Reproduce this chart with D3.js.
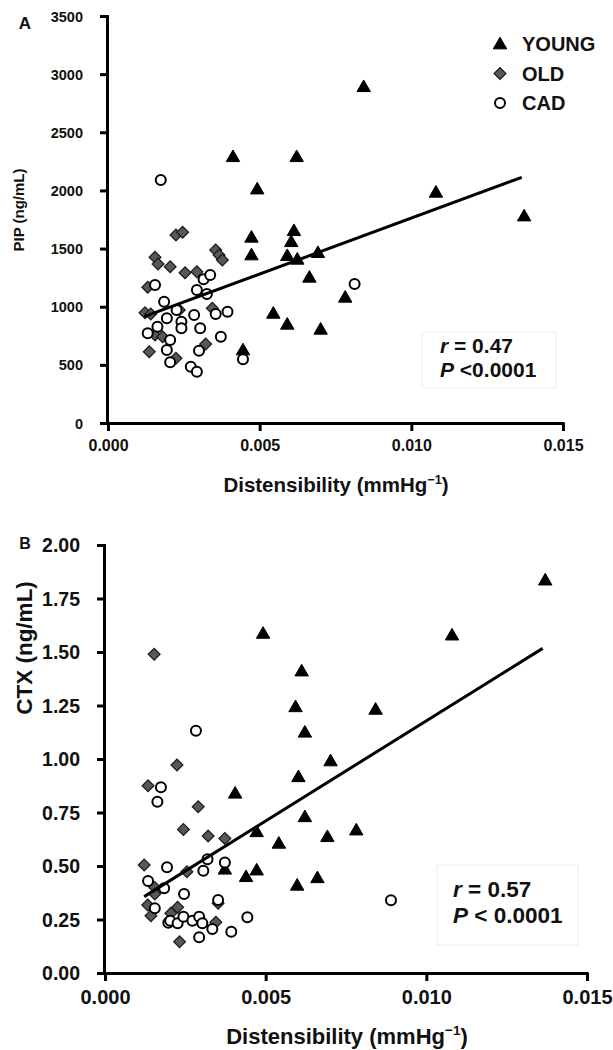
<!DOCTYPE html>
<html><head><meta charset="utf-8">
<script src="https://cdn.jsdelivr.net/npm/d3@7"></script>
<style>body{margin:0;background:#fff}svg{display:block;font-family:"Liberation Sans",Arial,sans-serif;font-weight:bold}</style>
</head><body><svg id="c" width="613" height="1050"></svg>
<script>
// ---------- data ----------
const xTicks = [0, 0.005, 0.010, 0.015];
const yTicksA = [0, 500, 1000, 1500, 2000, 2500, 3000, 3500];
const yTicksB = [0, 0.25, 0.5, 0.75, 1.0, 1.25, 1.5, 1.75, 2.0];
const groups = ["YOUNG", "OLD", "CAD"];

const youngA_x = [0.00412,0.00492,0.00843,0.00622,0.01081,0.01372,0.00613,0.00604,0.00591,0.00624,0.00692,0.00664,0.00782,0.00545,0.00591,0.00701,0.00473,0.00473,0.00445];
const youngA_y = [2290,2012,2892,2290,1984,1780,1654,1559,1439,1408,1465,1253,1081,943,849,806,1597,1445,628];
const oldA_x = [0.00224,0.00246,0.00155,0.00165,0.00205,0.00355,0.00366,0.00377,0.00254,0.00293,0.00131,0.00122,0.00141,0.00235,0.00344,0.00155,0.00180,0.00136,0.00322,0.00224];
const oldA_y = [1617,1640,1425,1367,1344,1488,1445,1402,1292,1301,1167,949,937,972,986,757,742,613,679,556];
const cadA_x = [0.00174,0.00813,0.00445,0.00155,0.00315,0.00337,0.00293,0.00326,0.00185,0.00226,0.00284,0.00355,0.00394,0.00194,0.00242,0.00242,0.00163,0.00131,0.00304,0.00205,0.00372,0.00194,0.00300,0.00205,0.00273,0.00293];
const cadA_y = [2090,1195,548,1187,1236,1273,1144,1109,1043,972,929,937,957,900,871,814,828,771,814,714,742,628,622,522,484,441];
const fitA_x = [0.00119, 0.01364];
const fitA_y = [914, 2113];

const youngB_x = [0.01370,0.01080,0.00492,0.00612,0.00593,0.00842,0.00622,0.00702,0.00602,0.00405,0.00622,0.00472,0.00782,0.00692,0.00541,0.00472,0.00439,0.00661,0.00598,0.00373];
const youngB_y = [1.836,1.579,1.587,1.411,1.244,1.232,1.125,0.991,0.917,0.840,0.730,0.660,0.668,0.637,0.606,0.481,0.450,0.445,0.410,0.485];
const oldB_x = [0.00153,0.00224,0.00134,0.00290,0.00244,0.00321,0.00373,0.00122,0.00255,0.00155,0.00155,0.00352,0.00133,0.00226,0.00143,0.00205,0.00345,0.00232];
const oldB_y = [1.489,0.972,0.875,0.777,0.671,0.640,0.629,0.505,0.473,0.400,0.369,0.326,0.318,0.307,0.268,0.279,0.237,0.146];
const cadB_x = [0.00283,0.00174,0.00163,0.00319,0.00373,0.00193,0.00306,0.00134,0.00184,0.00246,0.00352,0.00155,0.00197,0.00203,0.00226,0.00244,0.00272,0.00293,0.00303,0.00334,0.00393,0.00443,0.00293,0.00890];
const cadB_y = [1.132,0.868,0.800,0.531,0.516,0.494,0.478,0.430,0.396,0.369,0.341,0.302,0.235,0.244,0.232,0.263,0.244,0.263,0.232,0.206,0.193,0.260,0.167,0.340];
const fitB_x = [0.00122, 0.01362];
const fitB_y = [0.357, 1.517];

// ---------- drawing ----------
const svg = d3.select("#c");
const zip = (xs, ys) => xs.map((x, i) => [x, ys[i]]);
const triPath = d3.symbol(d3.symbolTriangle, 78)();
const diaPath = d3.symbol(d3.symbolSquare, 70)();

function drawMarker(g, kind, x, y) {
  if (kind === "YOUNG") {
    g.append("path").attr("d", triPath).attr("transform", `translate(${x},${y + 1})`).attr("fill", "#000").attr("stroke", "#000").attr("stroke-width", 1).attr("stroke-linejoin", "round");
  } else if (kind === "OLD") {
    g.append("path").attr("d", diaPath).attr("transform", `translate(${x},${y}) rotate(45)`).attr("fill", "#575757").attr("stroke", "#1a1a1a").attr("stroke-width", 1.2);
  } else {
    g.append("circle").attr("cx", x).attr("cy", y).attr("r", 5).attr("fill", "#fff").attr("stroke", "#000").attr("stroke-width", 2);
  }
}

function panel(cfg) {
  const x = d3.scaleLinear().domain([0, 0.015]).range([cfg.x0, cfg.x1]);
  const y = d3.scaleLinear().domain(cfg.yDomain).range([cfg.y0, cfg.y1]);
  const g = svg.append("g");

  // stats box
  g.append("rect").attr("x", cfg.box[0]).attr("y", cfg.box[1]).attr("width", cfg.box[2]).attr("height", cfg.box[3])
    .attr("fill", "#fff").attr("stroke", "#f3f3f3").attr("stroke-width", 1.5);

  // x axis
  const ax = g.append("g").attr("transform", `translate(0,${cfg.y0})`)
    .call(d3.axisBottom(x).tickValues(xTicks).tickFormat(d3.format(".3f")).tickSizeOuter(0).tickSize(8));
  ax.select(".domain").attr("stroke-width", 3).attr("d", `M${cfg.x0 - 1.5},0.5H${cfg.x1 + 1.5}`);
  ax.selectAll(".tick line").attr("stroke-width", 3);
  ax.selectAll(".tick text").attr("y", cfg.xLabY).attr("dy", "0.35em").attr("font-size", cfg.xLabFs)
    .attr("font-family", "Liberation Sans, Arial, sans-serif").attr("font-weight", "bold").attr("fill", "#111");

  // y axis
  const ay = g.append("g").attr("transform", `translate(${cfg.x0},0)`)
    .call(d3.axisLeft(y).tickValues(cfg.yTicks).tickFormat(cfg.yFmt).tickSizeOuter(0).tickSize(8));
  ay.select(".domain").attr("stroke-width", 3).attr("d", `M-0.5,${cfg.y0 + 1.5}V${cfg.y1 - 1}`);
  ay.selectAll(".tick line").attr("stroke-width", 3);
  ay.selectAll(".tick text").attr("x", -cfg.yLabGap).attr("dy", "0.35em").attr("font-size", cfg.yLabFs)
    .attr("font-family", "Liberation Sans, Arial, sans-serif").attr("font-weight", "bold").attr("fill", "#111");

  // axis titles
  const xt = g.append("text").attr("x", cfg.xTitle[0]).attr("y", cfg.xTitle[1]).attr("text-anchor", "middle")
    .attr("font-size", cfg.xTitleFs).attr("fill", "#111");
  xt.append("tspan").text("Distensibility (mmHg");
  xt.append("tspan").attr("dy", -cfg.xTitleFs * 0.4).attr("font-size", cfg.xTitleFs * 0.62).text("\u22121");
  xt.append("tspan").attr("dy", cfg.xTitleFs * 0.4).text(")");

  g.append("text").attr("transform", `translate(${cfg.yTitle[0]},${cfg.yTitle[1]}) rotate(-90)`)
    .attr("text-anchor", "middle").attr("dy", "0.36em").attr("font-size", cfg.yTitleFs).attr("fill", "#111").text(cfg.yTitleText);

  // panel letter
  g.append("text").attr("x", cfg.letter[0]).attr("y", cfg.letter[1]).attr("text-anchor", "middle").attr("dy", "0.36em")
    .attr("font-size", cfg.letterFs).attr("fill", "#111").text(cfg.letterText);

  // markers
  const mg = g.append("g");
  zip(cfg.old[0], cfg.old[1]).forEach(d => drawMarker(mg, "OLD", x(d[0]), y(d[1])));
  zip(cfg.young[0], cfg.young[1]).forEach(d => drawMarker(mg, "YOUNG", x(d[0]), y(d[1])));
  zip(cfg.cad[0], cfg.cad[1]).forEach(d => drawMarker(mg, "CAD", x(d[0]), y(d[1])));

  // regression line
  g.append("path").datum(zip(cfg.fit[0], cfg.fit[1]))
    .attr("d", d3.line().x(d => x(d[0])).y(d => y(d[1])))
    .attr("stroke", "#000").attr("stroke-width", 3).attr("fill", "none");

  // stats text
  const st = cfg.stats;
  const t1 = g.append("text").attr("x", st.x).attr("y", st.y1).attr("font-size", st.fs).attr("fill", "#111");
  t1.append("tspan").attr("font-style", "italic").text("r");
  t1.append("tspan").text(st.l1);
  const t2 = g.append("text").attr("x", st.x).attr("y", st.y2).attr("font-size", st.fs).attr("fill", "#111");
  t2.append("tspan").attr("font-style", "italic").text("P");
  t2.append("tspan").text(st.l2);
  return g;
}

panel({
  x0: 108, x1: 563, y0: 423, y1: 16, yDomain: [0, 3500], yTicks: yTicksA, yFmt: d3.format("d"),
  xLabY: 22, xLabFs: 16, yLabGap: 25, yLabFs: 14.5,
  xTitle: [336, 492], xTitleFs: 20.5, yTitle: [18.5, 210], yTitleFs: 15, yTitleText: "PIP (ng/mL)",
  letter: [25, 23], letterFs: 17, letterText: "A",
  young: [youngA_x, youngA_y], old: [oldA_x, oldA_y], cad: [cadA_x, cadA_y], fit: [fitA_x, fitA_y],
  box: [422, 332, 134, 56],
  stats: { x: 440, y1: 353, y2: 377, fs: 21, l1: " = 0.47", l2: " <0.0001" }
});

panel({
  x0: 105, x1: 587, y0: 973, y1: 545, yDomain: [0, 2], yTicks: yTicksB, yFmt: d3.format(".2f"),
  xLabY: 24, xLabFs: 20, yLabGap: 25, yLabFs: 19.5,
  xTitle: [347, 1044], xTitleFs: 22, yTitle: [23.5, 648], yTitleFs: 22.5, yTitleText: "CTX (ng/mL)",
  letter: [25, 543], letterFs: 16, letterText: "B",
  young: [youngB_x, youngB_y], old: [oldB_x, oldB_y], cad: [cadB_x, cadB_y], fit: [fitB_x, fitB_y],
  box: [437, 865, 141, 80],
  stats: { x: 453, y1: 897, y2: 923, fs: 22.5, l1: " = 0.57", l2: " < 0.0001" }
});

// legend (panel A)
const leg = svg.append("g");
groups.forEach((k, i) => {
  const yy = 44 + i * 29.5;
  drawMarker(leg, k, 500, yy);
  leg.append("text").attr("x", 522).attr("y", yy).attr("dy", "0.36em").attr("font-size", 20).attr("fill", "#111").text(k);
});
</script></body></html>
